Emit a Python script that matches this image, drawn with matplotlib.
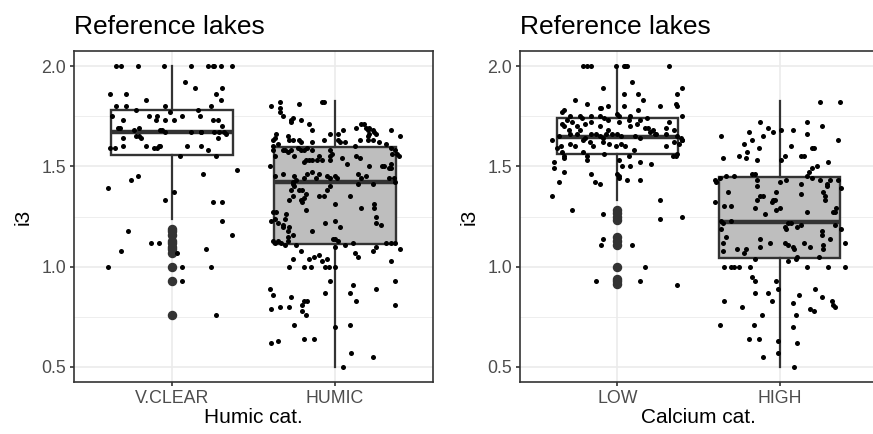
import numpy as np
import matplotlib
matplotlib.use("Agg")
import matplotlib.pyplot as plt
from matplotlib.ticker import MultipleLocator

plt.rcParams['font.family'] = ['Liberation Sans', 'DejaVu Sans']

# ---- data ----
humic_cats = ["V.CLEAR", "HUMIC"]
calcium_cats = ["LOW", "HIGH"]
yticks = [0.5, 1.0, 1.5, 2.0]

# box statistics: whislo, q1, median, q3, whishi
vclear_box = [1.24, 1.556, 1.669, 1.78, 2.0]
humic_box = [0.5, 1.113, 1.42, 1.594, 1.826]
low_box = [1.33, 1.564, 1.647, 1.743, 2.0]
high_box = [0.5, 1.045, 1.225, 1.446, 1.826]
vclear_out = [1.19, 1.18, 1.16, 1.13, 1.12, 1.10, 1.09, 1.07, 1.00, 0.93, 0.76]
humic_out = []
low_out = [1.28, 1.265, 1.25, 1.235, 1.146, 1.129, 1.109, 1.00, 0.94, 0.927, 0.914]
high_out = []

# jittered points: value and horizontal jitter offset
vclear_y = [2.00, 2.00, 2.00, 2.00, 2.00, 2.00, 2.00, 2.00, 2.00, 2.00,
            1.92, 1.89, 1.89, 1.86, 1.86, 1.86, 1.83, 1.83,
            1.80, 1.80, 1.80, 1.80, 1.78, 1.78, 1.77,
            1.75, 1.75, 1.75, 1.75, 1.75,
            1.73, 1.73, 1.73, 1.73, 1.73, 1.73,
            1.70, 1.69, 1.69, 1.69, 1.68, 1.68, 1.68,
            1.67, 1.67, 1.67, 1.67, 1.67, 1.67, 1.67, 1.66,
            1.65, 1.65, 1.64, 1.64, 1.64,
            1.60, 1.60, 1.60, 1.60, 1.60, 1.59, 1.59, 1.59, 1.59, 1.60,
            1.58, 1.55, 1.55, 1.48, 1.46, 1.45, 1.43, 1.39, 1.37, 1.33, 1.32, 1.32, 1.23,
            1.18, 1.16, 1.12, 1.12, 1.09, 1.08, 1.07, 1.00, 1.00, 1.00, 0.93, 0.76]
vclear_dx = [-0.34, -0.31, -0.21, -0.05, 0.12, 0.22, 0.25, 0.26, 0.30, 0.37,
             0.08, 0.14, 0.31, -0.38, -0.28, 0.27, -0.16, 0.30,
             -0.34, -0.28, -0.04, 0.24, -0.22, 0.16, -0.01,
             -0.37, -0.14, -0.09, 0.06, 0.17,
             -0.30, -0.10, -0.04, 0.01, 0.25, 0.28,
             0.31, -0.33, -0.32, -0.20, -0.23, -0.07, -0.06,
             -0.04, 0.12, 0.18, 0.18, 0.26, 0.29, 0.32, 0.33,
             -0.22, -0.20, -0.30, -0.19, 0.28,
             -0.16, -0.08, -0.07, 0.09, 0.18, -0.11, -0.09, -0.38, -0.35, -0.30,
             0.22, 0.05, 0.27, 0.40, 0.19, -0.21, -0.25, -0.39, 0.01, -0.04, 0.25, 0.31, 0.31,
             -0.27, 0.37, -0.13, -0.08, 0.21, -0.31, 0.03, -0.39, 0.06, 0.24, 0.06, 0.27]

humic_y = [1.80, 1.82, 1.79, 1.77, 1.75, 1.73, 1.74, 1.72, 1.81, 1.73,
           1.71, 1.68, 1.82, 1.82, 1.66, 1.66, 1.68, 1.69, 1.71, 1.71,
           1.69, 1.68, 1.69, 1.68, 1.67, 1.66, 1.66, 1.65, 1.68, 1.65,
           1.66, 1.64, 1.63, 1.61, 1.60, 1.65, 1.63, 1.63, 1.63, 1.62,
           1.62, 1.63, 1.63, 1.62, 1.62, 1.60, 1.63, 1.63, 1.63, 1.62,
           1.61, 1.59, 1.58, 1.58, 1.55, 1.58, 1.58, 1.57, 1.58, 1.55,
           1.59, 1.58, 1.58, 1.59, 1.58, 1.55, 1.55, 1.56, 1.54, 1.51,
           1.55, 1.54, 1.50, 1.50, 1.49, 1.56, 1.56, 1.55, 1.58, 1.50,
           1.46, 1.45, 1.42, 1.45, 1.44, 1.46, 1.47, 1.46, 1.44, 1.45,
           1.44, 1.45, 1.44, 1.44, 1.46, 1.45, 1.41, 1.44, 1.44, 1.42,
           1.49, 1.51, 1.50, 1.53, 1.53, 1.53, 1.53, 1.53, 1.53, 1.52,
           1.43, 1.41, 1.40, 1.38, 1.38, 1.38, 1.36, 1.35, 1.35, 1.38,
           1.40, 1.31, 1.35, 1.41, 1.29, 1.31, 1.29, 1.25, 1.22, 1.21,
           1.33, 1.35, 1.33, 1.32, 1.34, 1.28, 1.18, 1.22, 1.23, 1.20,
           1.27, 1.27, 1.24, 1.22, 1.21, 1.20, 1.24, 1.20, 1.18, 1.15,
           1.16, 1.26, 1.23, 1.13, 1.14, 1.10, 1.14, 1.13, 1.12, 1.05,
           1.08, 1.10, 1.12, 1.12, 1.12, 1.09, 1.11, 1.11, 1.13, 1.11,
           1.12, 1.08, 1.13, 1.12, 1.04, 1.00, 1.00, 1.00, 1.04, 1.06,
           1.05, 1.03, 1.04, 1.00, 1.00, 1.00, 1.07, 1.03, 0.89, 0.86,
           0.79, 0.80, 0.80, 0.85, 0.81, 0.83, 0.83, 0.78, 0.76, 0.87,
           0.93, 0.87, 0.91, 0.83, 0.89, 0.93, 0.81, 0.71, 0.70, 0.71,
           0.62, 0.63, 0.64, 0.64, 0.57, 0.55, 0.50]
humic_dx = [-0.39, -0.34, -0.34, -0.34, -0.32, -0.27, -0.26, -0.27, -0.22, -0.21,
            -0.16, -0.14, -0.08, -0.07, -0.03, 0.02, 0.05, 0.13, 0.16, 0.18,
            0.19, 0.20, 0.21, 0.23, 0.24, 0.25, 0.21, 0.20, 0.34, 0.40,
            -0.36, -0.37, -0.38, -0.35, -0.38, -0.29, -0.28, -0.26, -0.22, -0.21,
            -0.14, -0.07, 0.02, 0.03, 0.06, 0.12, 0.15, 0.20, 0.23, 0.27,
            0.31, 0.34, -0.03, -0.38, -0.37, -0.32, -0.31, -0.29, -0.27, -0.25,
            -0.23, -0.21, -0.19, -0.17, -0.14, -0.10, -0.03, -0.02, 0.04, 0.07,
            0.13, 0.15, 0.21, 0.29, 0.33, 0.35, 0.38, 0.39, 0.37, -0.40,
            -0.32, -0.37, -0.26, -0.25, -0.19, -0.17, -0.14, -0.10, -0.12, -0.05,
            -0.03, 0.00, 0.01, 0.16, 0.14, 0.19, 0.23, 0.33, 0.36, 0.37,
            0.34, 0.34, 0.30, -0.18, -0.16, -0.14, -0.11, -0.08, -0.03, -0.19,
            -0.24, -0.26, -0.25, -0.27, -0.22, -0.20, -0.18, -0.10, -0.07, -0.05,
            -0.03, 0.00, 0.09, 0.14, 0.16, 0.24, 0.24, 0.25, 0.25, 0.28,
            -0.28, -0.26, -0.21, -0.20, -0.19, -0.18, -0.14, -0.06, 0.00, 0.03,
            -0.38, -0.36, -0.37, -0.35, -0.32, -0.32, -0.31, -0.28, -0.29, -0.29,
            -0.26, -0.30, -0.39, -0.35, 0.00, 0.00, -0.01, 0.02, 0.11, 0.14,
            0.23, 0.25, 0.31, 0.34, 0.37, 0.40, 0.06, -0.24, -0.29, -0.31,
            -0.33, -0.21, -0.38, -0.37, -0.26, -0.28, -0.19, -0.15, -0.16, -0.10,
            -0.13, -0.08, -0.05, -0.06, -0.04, 0.00, 0.12, 0.34, -0.40, -0.38,
            -0.39, -0.34, -0.28, -0.27, -0.20, -0.19, -0.17, -0.20, -0.18, -0.06,
            -0.03, 0.09, 0.11, 0.13, 0.25, 0.37, 0.37, -0.25, 0.00, 0.09,
            -0.39, -0.35, -0.19, -0.13, 0.10, 0.23, 0.05]

low_y = [2.00, 2.00, 2.00, 2.00, 2.00, 2.00, 2.00, 2.00,
         1.92, 1.89, 1.89, 1.86, 1.86, 1.86, 1.83, 1.83,
         1.81, 1.81, 1.80, 1.80, 1.80, 1.80, 1.79, 1.79,
         1.77, 1.78, 1.78, 1.76,
         1.75, 1.75, 1.74, 1.75, 1.75, 1.74, 1.75, 1.75, 1.74, 1.75,
         1.73, 1.72, 1.72, 1.72, 1.73, 1.73, 1.72, 1.73,
         1.71, 1.70, 1.70, 1.71, 1.70, 1.68, 1.70, 1.71, 1.69, 1.68, 1.66, 1.69, 1.69, 1.68,
         1.68, 1.66, 1.66, 1.68, 1.66, 1.66, 1.65, 1.66, 1.66, 1.66, 1.65,
         1.65, 1.67, 1.66, 1.66, 1.65, 1.64, 1.65, 1.64, 1.64, 1.64, 1.63,
         1.63, 1.59, 1.60, 1.61, 1.60, 1.63, 1.62, 1.60, 1.62, 1.61,
         1.60, 1.61, 1.60, 1.58, 1.60, 1.62, 1.61, 1.63,
         1.57, 1.55, 1.54, 1.57, 1.55, 1.56, 1.53, 1.55, 1.55, 1.55, 1.56,
         1.52, 1.49, 1.47, 1.42, 1.35, 1.28, 1.53, 1.46, 1.42, 1.41,
         1.46, 1.45, 1.44, 1.50, 1.50, 1.43, 1.43, 1.52, 1.51, 1.33,
         1.24, 1.25, 1.26, 1.11, 1.14, 1.11, 0.93, 1.00, 0.93, 0.91]
low_dx = [-0.21, -0.19, -0.16, -0.01, 0.04, 0.05, 0.06, 0.32,
          0.09, -0.09, 0.40, 0.04, 0.13, 0.37, -0.26, 0.16,
          -0.19, 0.36, 0.37, -0.06, 0.04, 0.26, -0.11, -0.10,
          -0.34, -0.33, 0.13, 0.00,
          -0.29, -0.23, -0.22, -0.16, -0.11, -0.08, 0.01, 0.08, 0.18, 0.40,
          -0.31, -0.28, -0.16, 0.01, 0.07, 0.14, 0.32, -0.06,
          -0.34, -0.33, -0.25, -0.20, -0.11, -0.06, 0.08, 0.12, 0.17, 0.22, 0.23, 0.19, 0.30, 0.35,
          -0.30, -0.29, -0.25, -0.23, -0.16, -0.13, -0.11, -0.07, -0.03, 0.00, 0.02,
          0.11, 0.20, 0.24, 0.30, 0.37, 0.39, -0.36, -0.20, -0.09, 0.14, 0.40,
          -0.40, -0.37, -0.35, -0.29, -0.26, -0.21, -0.17, -0.15, -0.09, -0.05,
          -0.01, 0.02, 0.05, 0.10, 0.30, 0.35, 0.38, 0.40,
          -0.34, -0.33, -0.33, -0.21, -0.19, -0.08, 0.01, 0.07, 0.34, 0.36, 0.37,
          -0.39, -0.39, -0.33, -0.36, -0.40, -0.28, -0.19, -0.16, -0.14, -0.11,
          0.00, 0.01, 0.01, 0.03, 0.08, 0.06, 0.14, 0.14, 0.21, 0.26,
          0.26, 0.40, -0.09, -0.10, -0.09, 0.09, -0.13, 0.17, 0.14, 0.37]

high_y = [1.82, 1.82, 1.72, 1.72, 1.69, 1.68, 1.68, 1.70,
          1.67, 1.67, 1.65, 1.66, 1.65, 1.63, 1.63,
          1.61, 1.59, 1.57, 1.55, 1.54, 1.53, 1.54, 1.60, 1.55, 1.55, 1.55, 1.59, 1.59, 1.52, 1.53,
          1.43, 1.44, 1.45, 1.45, 1.42, 1.43, 1.46, 1.46, 1.42, 1.43, 1.44, 1.43,
          1.43, 1.43, 1.41, 1.40, 1.33, 1.35, 1.39, 1.45, 1.47, 1.50, 1.49,
          1.37, 1.30, 1.30, 1.32, 1.40, 1.35, 1.35, 1.33, 1.29, 1.26,
          1.32, 1.33, 1.33, 1.37, 1.28, 1.29, 1.41, 1.36, 1.27, 1.37,
          1.27, 1.27, 1.29, 1.23, 1.22, 1.23,
          1.19, 1.15, 1.12, 1.08, 1.09, 1.09, 1.07, 1.14, 1.10, 1.12,
          1.20, 1.19, 1.22, 1.22, 1.20, 1.21, 1.12, 1.11, 1.10, 1.09,
          1.05, 1.04, 1.12, 1.10, 1.18, 1.16, 1.14, 1.11, 1.09, 1.05,
          1.19, 1.12, 1.21,
          1.00, 1.00, 1.00, 1.00, 1.00, 1.04, 1.03, 1.00, 1.00, 1.00,
          0.95, 0.93, 0.93, 0.89, 0.87, 0.87, 0.83,
          0.83, 0.80, 0.86, 0.82, 0.76, 0.89, 0.85, 0.83, 0.81, 0.80,
          0.79, 0.78, 0.76, 0.71, 0.71, 0.70, 0.64, 0.64, 0.55, 0.63,
          0.57, 0.62, 0.50]
high_dx = [0.25, 0.37, -0.12, 0.17, -0.07, 0.01, 0.08, 0.26,
           -0.19, -0.04, -0.10, 0.17, -0.36, -0.17, 0.36,
           -0.22, -0.13, -0.20, -0.25, -0.21, -0.14, -0.35, 0.07, 0.03, 0.13, 0.15, 0.20, 0.21, 0.30, 0.01,
           -0.40, -0.37, -0.33, -0.28, -0.39, -0.14, -0.17, -0.15, 0.00, 0.04, 0.20, 0.25,
           0.31, 0.36, 0.29, 0.29, 0.28, 0.28, 0.38, 0.17, 0.18, 0.23, 0.20,
           -0.32, -0.30, -0.34, -0.40, -0.14, -0.12, -0.10, -0.14, -0.15, -0.09,
           -0.05, -0.04, -0.03, -0.02, -0.02, 0.00, 0.13, 0.13, 0.17, 0.27,
           0.34, 0.33, 0.35, -0.36, -0.35, -0.30,
           -0.36, -0.33, -0.35, -0.35, -0.26, -0.21, -0.22, -0.12, -0.12, -0.06,
           0.03, 0.04, 0.05, 0.07, 0.11, 0.13, 0.03, 0.05, 0.08, 0.09,
           0.11, 0.10, 0.15, 0.19, 0.26, 0.26, 0.31, 0.27, 0.27, 0.24,
           0.38, 0.40, 0.34,
           -0.34, -0.30, -0.28, -0.25, -0.18, -0.15, 0.05, 0.17, 0.30, 0.40,
           -0.17, -0.15, -0.02, -0.01, -0.15, -0.07, -0.05,
           -0.34, -0.23, 0.12, 0.08, 0.10, 0.22, 0.26, 0.32, 0.33, 0.34,
           0.19, 0.21, -0.11, -0.37, -0.16, 0.08, -0.19, -0.13, -0.10, -0.01,
           -0.01, 0.11, 0.09]

fills = ["white", "#BEBEBE"]


def make_stats(box, fliers):
    lo, q1, med, q3, hi = box
    return dict(whislo=lo, q1=q1, med=med, q3=q3, whishi=hi, fliers=fliers)


def draw_panel(ax, cats, boxes, outs, ys, dxs, xlabel):
    stats = [make_stats(b, o) for b, o in zip(boxes, outs)]
    bp = ax.bxp(stats, positions=[1, 2], widths=0.75, showcaps=False,
                patch_artist=True, zorder=2,
                boxprops=dict(edgecolor="#333333", linewidth=1.7),
                whiskerprops=dict(color="#333333", linewidth=1.6),
                medianprops=dict(color="#333333", linewidth=3.2),
                flierprops=dict(marker="o", markerfacecolor="#333333",
                                markeredgecolor="#333333", markersize=5.8))
    for patch, fc in zip(bp["boxes"], fills):
        patch.set_facecolor(fc)

    # jittered raw points
    for i, (y, dx) in enumerate(zip(ys, dxs)):
        x = i + 1 + np.array(dx)
        ax.scatter(x, np.array(y), s=13, color="black", linewidths=0, zorder=3)

    ax.set_xlim(0.4, 2.6)
    ax.set_ylim(0.425, 2.075)
    ax.set_xticks([1, 2])
    ax.set_xticklabels(cats)
    ax.set_yticks(yticks)
    ax.set_yticklabels(["%.1f" % t for t in yticks])
    ax.yaxis.set_minor_locator(MultipleLocator(0.25))
    ax.tick_params(axis="y", which="minor", length=0)
    ax.grid(True, which="major", color="#EBEBEB", linewidth=1.2, zorder=0)
    ax.grid(True, which="minor", axis="y", color="#EBEBEB", linewidth=0.6, zorder=0)
    ax.set_axisbelow(True)
    for sp in ax.spines.values():
        sp.set_color("#333333")
        sp.set_linewidth(1.2)
    ax.tick_params(which="major", length=3.2, width=1.2, color="#333333",
                   labelcolor="#4D4D4D", labelsize=12.8, pad=2.5)
    ax.set_title("Reference lakes", loc="left", fontsize=19, pad=12)
    ax.set_xlabel(xlabel, fontsize=15, labelpad=1)
    ax.set_ylabel("i3", fontsize=15, labelpad=6)


fig = plt.figure(figsize=(8.73, 4.34), dpi=100)
ax1 = fig.add_axes([74 / 873, 52 / 434, 359 / 873, 331 / 434])
ax2 = fig.add_axes([520 / 873, 52 / 434, 357 / 873, 331 / 434])

draw_panel(ax1, humic_cats, [vclear_box, humic_box], [vclear_out, humic_out],
           [vclear_y, humic_y], [vclear_dx, humic_dx], "Humic cat.")
draw_panel(ax2, calcium_cats, [low_box, high_box], [low_out, high_out],
           [low_y, high_y], [low_dx, high_dx], "Calcium cat.")

fig.savefig("out.png", dpi=100)
